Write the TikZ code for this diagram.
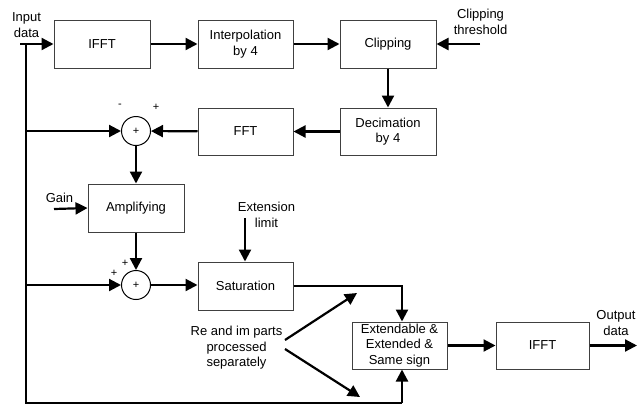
\documentclass[tikz,border=0pt]{standalone}
\usepackage{fontspec}
\setmainfont{Liberation Sans}
\usetikzlibrary{arrows.meta}
\begin{document}
\begin{tikzpicture}[x=1pt,y=-1pt,
  blk/.style={draw=black!75,line width=1pt,minimum width=96pt,minimum height=48pt,inner sep=0pt,align=center,font=\fontsize{13}{15.5}\selectfont},
  sumnode/.style={draw=black,line width=1pt,circle,minimum size=29pt,inner sep=0pt,font=\fontsize{11}{12}\selectfont},
  conn/.style={line width=2.2pt,-{Triangle[length=12pt,width=12pt]}},
  line/.style={line width=2.2pt},
  lbl/.style={align=center,font=\fontsize{13}{15.5}\selectfont,inner sep=0pt},
  sgn/.style={font=\fontsize{11}{12}\selectfont,inner sep=0pt}]
\useasboundingbox (0,0) rectangle (637,405);
% blocks
\node[blk] (ifft1) at (102,44) {IFFT};
\node[blk,minimum width=95pt] (interp) at (245.5,44) {Interpolation\\by 4};
\node[blk] (clip) at (388,44) {Clipping};
\node[blk,minimum height=47pt] (dec) at (388,131.5) {Decimation\\by 4};
\node[blk,minimum width=95pt,minimum height=47pt] (fft) at (245.5,131.5) {FFT};
\node[sumnode] (sum1) at (136,131) {+};
\node[blk] (amp) at (136,208) {Amplifying};
\node[sumnode] (sum2) at (136,285) {+};
\node[blk,minimum width=95pt] (sat) at (245.5,286) {Saturation};
\node[blk,minimum width=95pt,minimum height=47pt] (ext) at (399.5,345.5) {Extendable \&\\Extended \&\\Same sign};
\node[blk,minimum width=93pt,minimum height=47pt] (ifft2) at (542.5,345.5) {IFFT};
% labels
\node[lbl] (inlbl) at (26.5,25) {Input\\data};
\node[lbl] (thrlbl) at (480.5,22) {Clipping\\threshold};
\node[sgn] (m1) at (120,106) {-};
\node[sgn] (p1) at (156,107) {+};
\node[lbl] (gainlbl) at (59.5,198) {Gain};
\node[sgn] (p2) at (125,263) {+};
\node[sgn] (p3) at (114,273) {+};
\node[lbl] (extlbl) at (266.5,215) {Extension\\limit};
\node[lbl] (relbl) at (236.5,348) {Re and im parts\\processed\\separately};
\node[lbl] (outlbl) at (616,323) {Output\\data};
% coordinates
\coordinate (in) at (20,44);
\coordinate (busTop) at (26,44);
\coordinate (busB1) at (26,131);
\coordinate (busB2) at (26,285);
\coordinate (busBot) at (26,403);
\coordinate (busR) at (402,403);
\coordinate (thr) at (480,44);
\coordinate (gain) at (54,209);
\coordinate (extl) at (245,218);
\coordinate (satR) at (402,286);
\coordinate (d1s) at (285,340);
\coordinate (d1e) at (357,293);
\coordinate (d2s) at (285,349);
\coordinate (d2e) at (360,397);
\coordinate (out) at (637,345.5);
% connectors
\draw[conn] (in) -- (ifft1.west);
\draw[conn] (ifft1) -- (interp);
\draw[conn] (interp) -- (clip);
\draw[conn] (thr) -- (clip.east);
\draw[conn] (clip) -- (dec);
\draw[conn] (dec) -- (fft);
\draw[conn] (fft) -- (sum1);
\draw[line] (busTop) -- (busBot) -- (busR);
\draw[conn] (busR) -- (busR |- ext.south);
\draw[conn] (busB1) -- (sum1.west);
\draw[conn] (busB2) -- (sum2.west);
\draw[conn] (sum1) -- (amp);
\draw[conn] (gain) -- (amp.west);
\draw[conn] (amp) -- (sum2);
\draw[conn] (sum2) -- (sum2 -| sat.west);
\draw[conn] (extl) -- (extl |- sat.north);
\draw[conn] (sat.east |- satR) -- (satR) -- (satR |- ext.north);
\draw[conn] (d1s) -- (d1e);
\draw[conn] (d2s) -- (d2e);
\draw[conn] (ext) -- (ifft2);
\draw[conn] (ifft2.east) -- (out);
\end{tikzpicture}
\end{document}
